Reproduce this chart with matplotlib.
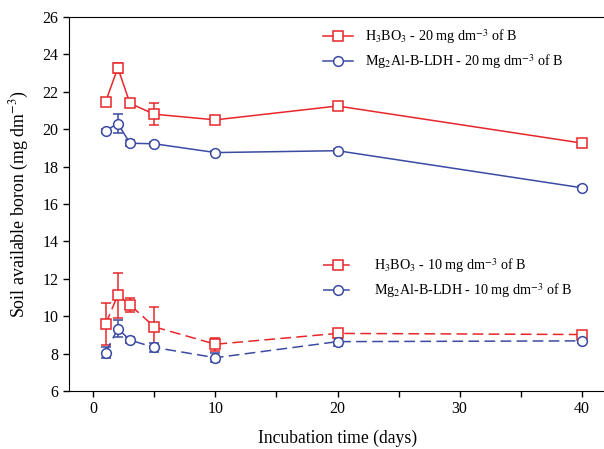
import matplotlib
matplotlib.use("Agg")
import matplotlib.pyplot as plt
import numpy as np

plt.rcParams['font.family'] = ['Liberation Serif', 'DejaVu Serif']
plt.rcParams['mathtext.fontset'] = 'stix'

# incubation days
days = [1, 2, 3, 5, 10, 20, 40]

# 20 mg dm-3 of B
h3bo3_20 = [21.47, 23.28, 21.38, 20.8, 20.5, 21.24, 19.26]
h3bo3_20_err = [0.2, 0.25, 0.15, 0.6, 0.12, 0.1, 0.1]
ldh_20 = [19.92, 20.3, 19.25, 19.22, 18.75, 18.85, 16.87]
ldh_20_err = [0.1, 0.5, 0.15, 0.1, 0.08, 0.1, 0.08]

# 10 mg dm-3 of B
h3bo3_10 = [9.58, 11.13, 10.6, 9.43, 8.5, 9.08, 9.02]
h3bo3_10_err = [1.1, 1.2, 0.4, 1.05, 0.35, 0.12, 0.12]
ldh_10 = [8.05, 9.33, 8.72, 8.33, 7.78, 8.64, 8.68]
ldh_10_err = [0.3, 0.45, 0.15, 0.25, 0.25, 0.22, 0.1]

red = '#e8262a'
blue = '#3b4aa3'

fig = plt.figure(figsize=(6.04, 4.49), dpi=100)
ax = fig.add_axes([69/604, 58/449, 537/604, 374/449])

kw = dict(markersize=7, markerfacecolor='white', markeredgewidth=1.1,
          capsize=3.6, elinewidth=1.1, capthick=1.1, linewidth=1.1)

l1 = ax.errorbar(days, h3bo3_20, yerr=h3bo3_20_err, color=red, marker='s', ls='-', **kw)
l2 = ax.errorbar(days, ldh_20, yerr=ldh_20_err, color=blue, marker='o', ls='-', **kw)
l3 = ax.errorbar(days, h3bo3_10, yerr=h3bo3_10_err, color=red, marker='s', ls=(0, (7, 3.5)), **kw)
l4 = ax.errorbar(days, ldh_10, yerr=ldh_10_err, color=blue, marker='o', ls=(0, (7, 3.5)), **kw)

ax.set_xlim(-2, 42)
ax.set_ylim(6, 26)
ax.set_xticks([0, 10, 20, 30, 40])
ax.set_xticks([5, 15, 25, 35], minor=True)
ax.set_yticks(np.arange(6, 27, 2))
ax.tick_params(axis='both', which='both', direction='out', length=4, width=1, labelsize=11.5)
ax.spines['right'].set_visible(False)

ax.set_xlabel('Incubation time (days)', fontsize=12.7, labelpad=9)
ax.set_ylabel('Soil available boron (mg dm$^{-3}$)', fontsize=12.9, labelpad=8)

leg1 = ax.legend([l1[0], l2[0]],
                 ['H$_3$BO$_3$ - 20 mg dm$^{-3}$ of B',
                  'Mg$_2$Al-B-LDH - 20 mg dm$^{-3}$ of B'],
                 loc='upper left', bbox_to_anchor=(0.45, 1.008), frameon=False,
                 fontsize=10.2, handlelength=2.1, handletextpad=0.85, labelspacing=0.45)
ax.add_artist(leg1)
ax.legend([l3[0], l4[0]],
          ['H$_3$BO$_3$ - 10 mg dm$^{-3}$ of B',
           'Mg$_2$Al-B-LDH - 10 mg dm$^{-3}$ of B'],
          loc='upper left', bbox_to_anchor=(0.45, 0.395), frameon=False,
          fontsize=10.2, handlelength=2.1, handletextpad=1.5, labelspacing=0.45)

fig.savefig('out.png', dpi=100)
